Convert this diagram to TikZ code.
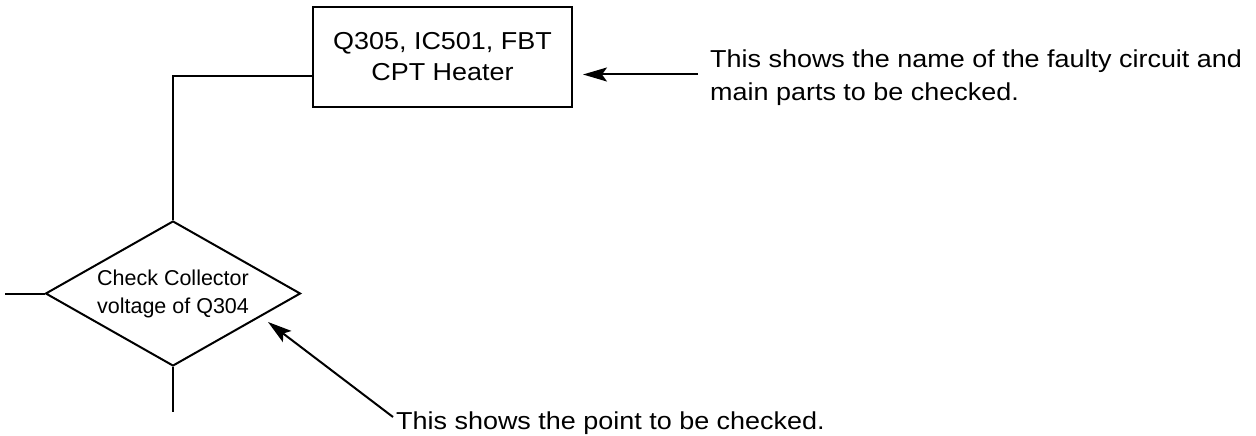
\documentclass[tikz,border=0pt]{standalone}
\usepackage{fontspec}
\setmainfont{Liberation Sans}
\newfontfamily\widefont[FakeStretch=1.1]{Liberation Sans}
\usetikzlibrary{shapes.geometric,arrows.meta}
\begin{document}
\begin{tikzpicture}[x=1pt,y=-1pt,
  wire/.style={line width=2pt},
  pointer/.style={line width=2pt,-{Stealth[length=24pt,width=14pt,inset=5pt]}},
  boxtext/.style={font=\widefont\fontsize{24.5}{31}\selectfont},
  notetext/.style={font=\widefont\fontsize{24.5}{33}\selectfont},
  diatext/.style={font=\fontsize{21.5}{28}\selectfont}]
\useasboundingbox (0,0) rectangle (1256,436);
% part box
\node[draw, wire, minimum width=259pt, minimum height=100pt, inner sep=0pt,
      align=center, boxtext] (box) at (442.5,57) {Q305, IC501, FBT\\CPT Heater};
% check diamond
\node[diamond, draw, wire, aspect=1.75, minimum width=255pt, minimum height=145pt,
      inner sep=0pt, align=center, diatext] (dia) at (173,293.5) {Check Collector\\voltage of Q304};
% notes
\node[notetext, anchor=base west, inner sep=0pt, align=left] (note1) at (710,100)
  {This shows the name of the faulty circuit and\\main parts to be checked.};
\node[notetext, anchor=base west, inner sep=0pt] (note2) at (396,429)
  {This shows the point to be checked.};
% connectors
\coordinate (j) at (173,76);
\coordinate (lstub) at (5,293.5);
\coordinate (bstub) at (173,412);
\coordinate (t1tail) at (698,74.5);
\coordinate (t1tip) at (583,74.5);
\coordinate (t2tail) at (393,417);
\coordinate (t2tip) at (268,322);
\draw[wire] (box.west |- j) -- (j) -- (dia.north);
\draw[wire] (dia.west) -- (lstub);
\draw[wire] (dia.south) -- (bstub);
\draw[pointer] (t1tail) -- (t1tip);
\draw[pointer] (t2tail) -- (t2tip);
\end{tikzpicture}
\end{document}
